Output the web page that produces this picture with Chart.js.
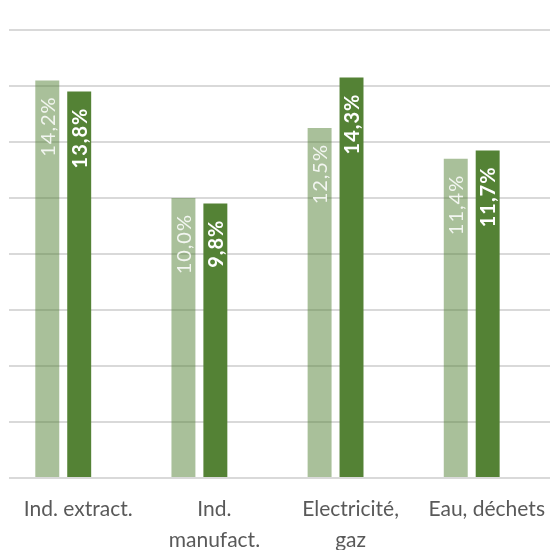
<!DOCTYPE html>
<html>
<head>
<meta charset="utf-8">
<script src="https://cdn.jsdelivr.net/npm/chart.js@4"></script>
<style>
  html, body { margin: 0; padding: 0; background: #fff; }
  #wrap { width: 550px; height: 550px; }
</style>
</head>
<body>
<div id="wrap"><canvas id="chart" width="550" height="550"></canvas></div>
<script>
// categories and the two series (percent)
const categories = [["Ind. extract."], ["Ind.", "manufact."], ["Electricité,", "gaz"], ["Eau, déchets"]];
const seriesLight = [14.2, 10.0, 12.5, 11.4];
const seriesDark = [13.8, 9.8, 14.3, 11.7];

const toPoints = (values) => values.map((v, i) => ({ x: i, y: v }));
const fmt = (v) => v.toFixed(1).replace(".", ",") + "%";

// labels written vertically inside the top of each bar
const barLabels = {
  id: "barLabels",
  afterDatasetsDraw(chart) {
    const ctx = chart.ctx;
    chart.data.datasets.forEach((ds, di) => {
      const meta = chart.getDatasetMeta(di);
      meta.data.forEach((bar, i) => {
        ctx.save();
        ctx.translate(bar.x + 1, bar.y + 16);
        ctx.rotate(-Math.PI / 2);
        ctx.textAlign = "right";
        ctx.textBaseline = "middle";
        ctx.letterSpacing = "1px";
        ctx.font = (di === 1 ? "bold " : "") + "20px Lato";
        ctx.fillStyle = di === 1 ? "#ffffff" : "rgba(255,255,255,0.85)";
        ctx.fillText(fmt(ds.data[i].y), 0, 0);
        ctx.restore();
      });
    });
  },
};

new Chart(document.getElementById("chart"), {
  type: "bar",
  data: {
    datasets: [
      {
        label: "light",
        data: toPoints(seriesLight),
        backgroundColor: "rgba(84,130,53,0.5)",
      },
      {
        label: "dark",
        data: toPoints(seriesDark),
        backgroundColor: "#548235",
      },
    ],
  },
  options: {
    responsive: false,
    animation: false,
    categoryPercentage: 0.469,
    barPercentage: 0.75,
    layout: { padding: { left: 8, top: 30, right: 0, bottom: 0 } },
    plugins: { legend: { display: false }, tooltip: { enabled: false } },
    scales: {
      x: {
        type: "linear",
        offset: false,
        min: -0.396,
        max: 3.575,
        afterBuildTicks: (s) => {
          s.ticks = categories.map((c, i) => ({ value: i }));
        },
        afterFit: (s) => {
          s.height = 72;
        },
        grid: { display: false },
        border: { display: false },
        ticks: {
          autoSkip: false,
          maxRotation: 0,
          padding: 8,
          labelOffset: 15,
          color: "#595959",
          font: { family: "Lato", size: 21, lineHeight: 1.48 },
          callback: (v) => categories[v],
        },
      },
      y: {
        min: 0,
        max: 16,
        border: { display: false },
        grid: { color: "#d9d9d9", lineWidth: 2, drawTicks: false },
        ticks: { display: false, stepSize: 2 },
      },
    },
  },
  plugins: [barLabels],
});
</script>
</body>
</html>
